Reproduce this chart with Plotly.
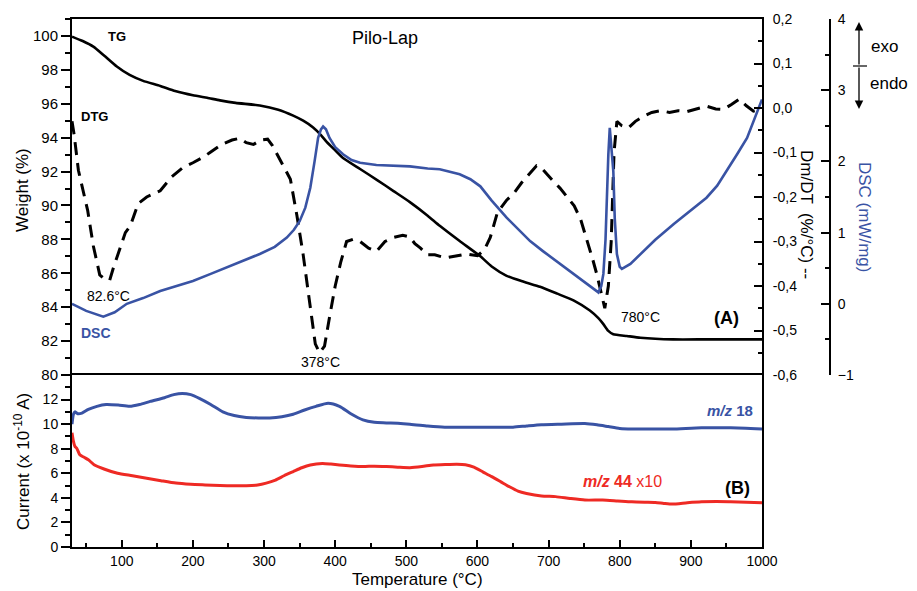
import plotly.graph_objects as go

# ---------------- data ----------------
tg_T = [30, 45, 60, 75, 93, 111, 130, 154, 175, 200, 220, 238, 260, 294, 320, 341, 355, 369, 380, 388,
        400, 411, 435, 459, 482, 505, 530, 547, 575, 604, 620, 641, 665, 688, 712, 735, 758, 770, 777,
        784, 791, 810, 829, 875, 920, 960, 1000]
tg_W = [99.96, 99.7, 99.37, 98.85, 98.2, 97.7, 97.35, 97.05, 96.75, 96.5, 96.35, 96.2, 96.05, 95.9, 95.65,
        95.3, 95.0, 94.6, 94.15, 93.75, 93.25, 92.8, 92.15, 91.5, 90.85, 90.2, 89.4, 88.8, 87.9, 87.0,
        86.4, 85.85, 85.5, 85.2, 84.8, 84.4, 83.8, 83.35, 83.0, 82.6, 82.4, 82.3, 82.2, 82.1, 82.1, 82.1, 82.1]

dtg_T = [30, 33, 39, 46, 52, 60, 69, 76, 83, 88, 97, 105, 112, 123, 135, 154, 170, 185, 200, 215, 224, 240,
         255, 266, 275, 285, 295, 305, 312, 318, 327, 337, 346, 355, 365, 372, 378, 385, 392, 400, 408, 416,
         425, 435, 447, 458, 470, 482, 495, 505, 512, 520, 530, 540, 555, 570, 585, 600, 610, 618, 628, 641,
         652, 662, 672, 683, 690, 698, 707, 716, 726, 736, 745, 754, 762, 768, 774, 779, 784, 788, 792, 796,
         803, 812, 822, 832, 845, 858, 870, 882, 895, 910, 922, 935, 946, 957, 968, 978, 988, 1000]
dtg_D = [-0.03, -0.06, -0.14, -0.19, -0.23, -0.31, -0.375, -0.385, -0.387, -0.36, -0.315, -0.28, -0.265,
         -0.215, -0.2, -0.186, -0.155, -0.135, -0.123, -0.11, -0.10, -0.082, -0.072, -0.068, -0.078, -0.082,
         -0.072, -0.07, -0.085, -0.104, -0.13, -0.16, -0.24, -0.33, -0.455, -0.53, -0.55, -0.535, -0.47,
         -0.4, -0.345, -0.3, -0.295, -0.3, -0.315, -0.322, -0.3, -0.291, -0.286, -0.29, -0.305, -0.315,
         -0.33, -0.33, -0.337, -0.333, -0.328, -0.332, -0.318, -0.291, -0.235, -0.207, -0.19, -0.168, -0.15,
         -0.13, -0.135, -0.15, -0.165, -0.18, -0.2, -0.22, -0.25, -0.295, -0.34, -0.375, -0.42, -0.45, -0.4,
         -0.3, -0.1, -0.03, -0.04, -0.045, -0.03, -0.02, -0.01, -0.006, -0.01, -0.006, -0.008, -0.002,
         0.004, -0.002, -0.003, 0.008, 0.02, 0.005, -0.007, -0.003]

dsc_T = [30, 50, 74, 90, 107, 130, 154, 177, 200, 225, 247, 270, 294, 315, 332, 342, 350, 358, 365, 371, 376,
         380, 383, 387, 392, 400, 411, 423, 435, 458, 480, 505, 530, 547, 575, 590, 604, 620, 641, 657, 674,
         692, 711, 730, 749, 760, 770, 774, 777, 780, 782, 784, 786, 788, 791, 793, 796, 800, 803, 815, 829,
         850, 876, 900, 922, 937, 950, 965, 979, 990, 1000]
dsc_S = [0.0, -0.1, -0.18, -0.12, 0.0, 0.08, 0.18, 0.25, 0.32, 0.42, 0.51, 0.6, 0.70, 0.8, 0.93, 1.04, 1.16,
         1.35, 1.63, 2.0, 2.33, 2.45, 2.49, 2.45, 2.33, 2.2, 2.1, 2.02, 1.98, 1.95, 1.94, 1.93, 1.9, 1.89,
         1.82, 1.75, 1.65, 1.45, 1.21, 1.05, 0.88, 0.74, 0.60, 0.46, 0.32, 0.24, 0.16, 0.25, 0.42, 0.9, 1.63,
         2.1, 2.47, 2.2, 1.86, 1.2, 0.70, 0.52, 0.49, 0.56, 0.70, 0.9, 1.12, 1.32, 1.49, 1.66, 1.86, 2.1,
         2.33, 2.6, 2.87]

ms18_T = [30, 32, 34, 38, 44, 53, 65, 78, 95, 111, 125, 140, 160, 173, 185, 197, 209, 225, 242, 258, 275, 292,
          308, 325, 341, 357, 373, 390, 406, 422, 439, 455, 472, 505, 530, 554, 587, 620, 650, 669, 690, 718,
          751, 768, 784, 800, 817, 850, 874, 915, 956, 1000]
ms18_C = [10.0, 10.8, 11.0, 10.85, 10.9, 11.2, 11.45, 11.6, 11.55, 11.45, 11.6, 11.85, 12.15, 12.4, 12.5,
          12.4, 12.1, 11.6, 11.0, 10.7, 10.55, 10.5, 10.5, 10.6, 10.8, 11.15, 11.45, 11.7, 11.45, 10.85,
          10.35, 10.15, 10.1, 10.0, 9.85, 9.75, 9.75, 9.75, 9.75, 9.85, 9.95, 10.0, 10.05, 9.95, 9.8, 9.65,
          9.6, 9.6, 9.6, 9.7, 9.7, 9.6]

ms44_T = [30, 32, 34, 37, 41, 47, 53, 61, 75, 94, 115, 135, 155, 176, 197, 217, 238, 258, 275, 291, 303, 316,
          328, 341, 353, 365, 382, 394, 406, 422, 439, 455, 472, 488, 505, 522, 538, 555, 571, 583, 595, 608,
          620, 633, 645, 657, 669, 690, 710, 730, 751, 776, 797, 817, 835, 850, 862, 874, 895, 915, 936, 956,
          978, 1000]
ms44_C = [9.3, 8.6, 8.2, 8.0, 7.5, 7.3, 7.1, 6.7, 6.35, 6.0, 5.8, 5.6, 5.4, 5.2, 5.1, 5.05, 5.0, 4.98, 4.98,
          5.05, 5.2, 5.45, 5.8, 6.14, 6.45, 6.68, 6.8, 6.75, 6.68, 6.6, 6.55, 6.58, 6.55, 6.5, 6.46, 6.55,
          6.68, 6.72, 6.74, 6.7, 6.5, 6.1, 5.73, 5.3, 4.9, 4.55, 4.36, 4.15, 4.1, 3.95, 3.82, 3.82, 3.75,
          3.68, 3.65, 3.63, 3.55, 3.49, 3.6, 3.68, 3.7, 3.68, 3.65, 3.6]

weight_ticks = [80, 82, 84, 86, 88, 90, 92, 94, 96, 98, 100]
dtg_ticks = [-0.6, -0.5, -0.4, -0.3, -0.2, -0.1, 0.0, 0.1, 0.2]
dtg_ticktext = ["-0,6", "-0,5", "-0,4", "-0,3", "-0,2", "-0,1", "0,0", "0,1", "0,2"]
dsc_ticks = [-1, 0, 1, 2, 3, 4]
current_ticks = [0, 2, 4, 6, 8, 10, 12]

# ---------------- layout geometry ----------------
W, H = 917, 591
L, R, T, B = 72, 850, 19, 547          # plot-area pixel box
PW, PH = R - L, B - T
XEND = (762 - L) / PW                  # x domain end
SPLIT = (547 - 375) / PH               # panel boundary


def px(xp, yp):
    return (xp - L) / PW, (B - yp) / PH


BLUE = "#3953a4"
RED = "#ee2a24"
FONT = "Liberation Sans, Arial, sans-serif"

fig = go.Figure()
fig.add_trace(go.Scatter(x=tg_T, y=tg_W, xaxis="x2", yaxis="y2", mode="lines",
                         line=dict(color="black", width=2.6, shape="spline", smoothing=0.5)))
fig.add_trace(go.Scatter(x=dtg_T, y=dtg_D, xaxis="x2", yaxis="y3", mode="lines",
                         line=dict(color="black", width=3, dash="13px,8px")))
fig.add_trace(go.Scatter(x=dsc_T, y=dsc_S, xaxis="x2", yaxis="y4", mode="lines",
                         line=dict(color=BLUE, width=2.6)))
fig.add_trace(go.Scatter(x=ms18_T, y=ms18_C, xaxis="x", yaxis="y", mode="lines",
                         line=dict(color=BLUE, width=3, shape="spline", smoothing=0.6)))
fig.add_trace(go.Scatter(x=ms44_T, y=ms44_C, xaxis="x", yaxis="y", mode="lines",
                         line=dict(color=RED, width=3, shape="spline", smoothing=0.6)))

axline = dict(showline=True, linecolor="black", linewidth=2, showgrid=False, zeroline=False)
tickf = dict(family=FONT, size=14, color="black")

fig.update_layout(
    width=W, height=H, margin=dict(l=L, r=W - R, t=T, b=H - B),
    paper_bgcolor="white", plot_bgcolor="white", showlegend=False,
    font=dict(family=FONT, color="black"),
    xaxis=dict(domain=[0, XEND], range=[30, 1000], anchor="y", mirror=True,
               ticks="inside", ticklen=7, tickwidth=2, tickcolor="black",
               tickmode="linear", tick0=0, dtick=100, tickfont=tickf,
               minor=dict(ticks="inside", ticklen=4, tickwidth=2, tickcolor="black", dtick=50, tick0=0),
               **axline),
    xaxis2=dict(domain=[0, XEND], range=[30, 1000], anchor="y2", matches="x", side="top",
                showticklabels=False, ticks="", **axline),
    yaxis=dict(domain=[0, SPLIT], range=[0, 14], anchor="x", mirror=True,
               tickmode="array", tickvals=current_ticks, ticks="outside", ticklen=9, tickwidth=2,
               tickcolor="black", tickfont=tickf,
               minor=dict(ticks="outside", ticklen=5, tickwidth=2, tickcolor="black",
                          tickmode="linear", tick0=0, dtick=1),
               **axline),
    yaxis2=dict(domain=[SPLIT, 1], range=[80, 101], anchor="x2",
                tickmode="array", tickvals=weight_ticks, ticks="outside", ticklen=9, tickwidth=2,
                tickcolor="black", tickfont=dict(family=FONT, size=15, color="black"),
                minor=dict(ticks="outside", ticklen=5, tickwidth=2, tickcolor="black",
                           tickmode="linear", tick0=80, dtick=1),
                **axline),
    yaxis3=dict(overlaying="y2", side="right", anchor="x2", range=[-0.6, 0.2],
                tickmode="array", tickvals=dtg_ticks, ticktext=dtg_ticktext,
                ticks="inside", ticklen=8, tickwidth=2, tickcolor="black", tickfont=tickf,
                ticklabelstandoff=6,
                minor=dict(ticks="inside", ticklen=4, tickwidth=2, tickcolor="black",
                           tickmode="linear", tick0=0, dtick=0.05),
                **axline),
    yaxis4=dict(overlaying="y2", side="right", anchor="free", position=(830 - L) / PW, range=[-1, 4],
                tickmode="array", tickvals=dsc_ticks, ticks="inside", ticklen=8, tickwidth=2,
                tickcolor="black", tickfont=tickf, ticklabelstandoff=4,
                minor=dict(ticks="inside", ticklen=4, tickwidth=2, tickcolor="black",
                           tickmode="linear", tick0=0, dtick=0.5),
                **axline),
)

anns = []


def text(xp, yp, s, size=14, color="black", angle=0):
    x, y = px(xp, yp)
    anns.append(dict(x=x, y=y, xref="paper", yref="paper", text=s, showarrow=False,
                     xanchor="center", yanchor="middle", textangle=angle,
                     font=dict(family=FONT, size=size, color=color)))


text(385, 38, "Pilo-Lap", 18)
text(117, 37, "<b>TG</b>", 13)
text(94, 116, "<b>DTG</b>", 13)
text(96, 333, "<b>DSC</b>", 14, BLUE)
text(108, 296, "82.6°C", 14)
text(320, 362, "378°C", 14)
text(640, 317, "780°C", 14)
text(726, 318, "<b>(A)</b>", 18)
text(737, 488, "<b>(B)</b>", 18)
text(730, 410, "<b><i>m/z</i> 18</b>", 15, BLUE)
text(622, 481, "<b><i>m/z</i> 44</b> x10", 16, RED)
text(22, 190, "Weight (%)", 17, angle=-90)
text(22, 462, "Current (x 10<sup>-10</sup> A)", 17, angle=-90)
text(417, 579, "Temperature (°C)", 17)
text(806, 214, "Dm/DT  (%/°C) --", 17, angle=90)
text(865, 217, "DSC (mW/mg)", 17, BLUE, angle=90)
text(884, 46, "exo", 17)
text(889, 84, "endo", 17)

# exo / endo arrows
for tip_y, off in [(22, 44), (109, -43)]:
    x, y = px(859, tip_y)
    anns.append(dict(x=x, y=y, xref="paper", yref="paper", text="", showarrow=True,
                     ax=0, ay=off, arrowhead=2, arrowsize=1.3, arrowwidth=1.3, arrowcolor="black"))
fig.update_layout(annotations=anns)

x0, yy = px(853, 66)
x1, _ = px(867, 66)
fig.add_shape(type="line", xref="paper", yref="paper", x0=x0, x1=x1, y0=yy, y1=yy,
              line=dict(color="black", width=1.2))

fig.write_html("out.html", config={"displayModeBar": False},
               post_script="document.body.style.margin='0px';")
